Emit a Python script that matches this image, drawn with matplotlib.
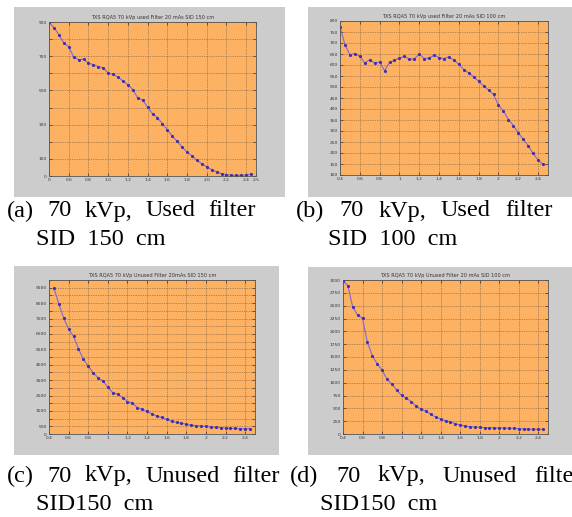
import numpy as np
import matplotlib
matplotlib.use("Agg")
import matplotlib.pyplot as plt
from matplotlib.patches import Rectangle

W, H = 572, 517

# (a) used filter, SID 150 cm
x_a = [0.40, 0.45, 0.50, 0.55, 0.60, 0.65, 0.70, 0.75, 0.80, 0.85, 0.90, 0.95,
       1.00, 1.05, 1.10, 1.15, 1.20, 1.25, 1.30, 1.35, 1.40, 1.45, 1.50, 1.55,
       1.60, 1.65, 1.70, 1.75, 1.80, 1.85, 1.90, 1.95, 2.00, 2.05, 2.10, 2.15,
       2.20, 2.25, 2.30, 2.35, 2.40, 2.45]
y_a = [900, 867, 826, 777, 756, 695, 680, 682, 660, 651, 639, 633,
       602, 594, 579, 555, 534, 505, 456, 444, 403, 364, 341, 306,
       271, 234, 203, 169, 140, 119, 92, 72, 53, 37, 23, 14,
       8, 4, 4, 4, 6, 10]

# (b) used filter, SID 100 cm
x_b = x_a
y_b = [773, 692, 647, 652, 639, 609, 624, 609, 614, 574, 612, 621,
       632, 639, 627, 627, 650, 629, 632, 644, 634, 629, 637, 622,
       603, 579, 564, 546, 526, 505, 486, 466, 417, 392, 352, 325,
       292, 263, 233, 198, 168, 148]

# (c) unused filter, SID 150 cm
x_c = [0.45, 0.50, 0.55, 0.60, 0.65, 0.70, 0.75, 0.80, 0.85, 0.90, 0.95,
       1.00, 1.05, 1.10, 1.15, 1.20, 1.25, 1.30, 1.35, 1.40, 1.45, 1.50, 1.55,
       1.60, 1.65, 1.70, 1.75, 1.80, 1.85, 1.90, 1.95, 2.00, 2.05, 2.10, 2.15,
       2.20, 2.25, 2.30, 2.35, 2.40, 2.45]
y_c = [9484, 8452, 7527, 6796, 6344, 5548, 4860, 4409, 3978, 3656, 3441,
       3032, 2688, 2581, 2366, 2108, 2000, 1720, 1591, 1462, 1312, 1161, 1075,
       946, 839, 753, 710, 624, 581, 538, 516, 495, 452, 430, 409,
       387, 366, 366, 344, 344, 344]

# (d) unused filter, SID 100 cm
x_d = x_a
y_d = [2980, 2890, 2468, 2318, 2253, 1786, 1526, 1364, 1247, 1071, 974, 857,
       753, 695, 630, 545, 481, 442, 383, 325, 292, 260, 234, 201,
       175, 156, 143, 136, 130, 123, 123, 117, 117, 117, 110, 110,
       104, 97, 97, 91, 91, 91]

titles = ["TXS RQA5 70 kVp used Filter 20 mAs SID 150 cm",
          "TXS RQA5 70 kVp used Filter 20 mAs SID 100 cm",
          "TXS RQA5 70 kVp Unused Filter 20mAs SID 150 cm",
          "TXS RQA5 70 kVp Unused Filter 20 mAs SID 100 cm"]
captions = [("(a) 70 kVp, Used filter", "SID  150  cm"),
            ("(b) 70 kVp, Used filter", "SID  100  cm"),
            ("(c) 70 kVp, Unused filter", "SID150  cm"),
            ("(d) 70 kVp, Unused filter", "SID150  cm")]

xticks_a = [0.4, 0.6, 0.8, 1.0, 1.2, 1.4, 1.6, 1.8, 2.0, 2.2, 2.4, 2.5]
xlabels_a = ["0", "0.6", "0.8", "1.0", "1.2", "1.4", "1.6", "1.8", "2.0", "2.2", "2.4", "2.5"]
xticks_std = [0.4, 0.6, 0.8, 1.0, 1.2, 1.4, 1.6, 1.8, 2.0, 2.2, 2.4]
xlabels_std = ["0.4", "0.6", "0.8", "1", "1.2", "1.4", "1.6", "1.8", "2", "2.2", "2.4"]

yticks_a = list(range(0, 901, 100))
ylabels_a = ["0", "100", "", "300", "", "500", "", "700", "", "900"]
yticks_b = list(range(100, 801, 50))
yticks_c = list(range(0, 10001, 500))
ylabels_c = ["0"] + [str(v) if v % 1000 == 500 else "" for v in yticks_c[1:]]
yticks_d = list(range(0, 3001, 250))

panels = [
    # gray box (l, t, r, b) px, axes (l, t, r, b) px
    ((14, 7, 285, 197), (49, 22, 256, 176), x_a, y_a, (0.4, 2.5), (0, 900),
     xticks_a, xlabels_a, yticks_a, ylabels_a),
    ((308, 7, 572, 197), (340, 21, 548, 175), x_b, y_b, (0.4, 2.5), (100, 800),
     xticks_std, xlabels_std, yticks_b, [str(v) for v in yticks_b]),
    ((14, 266, 279, 455), (49, 280, 255, 434), x_c, y_c, (0.4, 2.5), (0, 10000),
     xticks_std, xlabels_std, yticks_c, ylabels_c),
    ((308, 267, 572, 455), (343, 280, 548, 434), x_d, y_d, (0.4, 2.5), (0, 3000),
     xticks_std, xlabels_std, yticks_d, [str(v) for v in yticks_d]),
]
# caption line 1: start x, end x (justified), y ; line 2: start x, y
caption_pos = [(7, 256, 211, 36, 240), (296, 553, 211, 328, 240),
               (7, 280, 476, 36, 504), (290, 582, 476, 320, 504)]
CAP_FS = 17.5

fig = plt.figure(figsize=(W / 100, H / 100), dpi=100)
fig.patch.set_facecolor("white")

def box(l, t, r, b):
    return [l / W, 1 - b / H, (r - l) / W, (b - t) / H]

line1_words = []
for i, p in enumerate(panels):
    gray, axpos, xs, ys, xl, yl, xt, xtl, yt, ytl = p
    g = box(*gray)
    fig.patches.append(Rectangle((g[0], g[1]), g[2], g[3], transform=fig.transFigure,
                                 facecolor="#cccccc", edgecolor="none", zorder=-10))
    ax = fig.add_axes(box(*axpos))
    ax.set_zorder(5)
    ax.set_facecolor("#fdb163")
    ax.plot(xs, ys, color="#7b68d8", lw=0.8, marker=".", ms=2.5,
            mfc="#3b2fb0", mec="#3b2fb0")
    ax.set_xlim(*xl)
    ax.set_ylim(*yl)
    ax.set_xticks(xt)
    ax.set_xticklabels(xtl)
    ax.set_yticks(yt)
    ax.set_yticklabels(ytl)
    ax.tick_params(direction="in", length=2, width=0.5, labelsize=3.2,
                   colors="#333333", pad=1.5, top=True, right=True)
    ax.grid(True, color="#6e5a3c", linestyle=(0, (1, 1.5)), linewidth=0.5)
    for s in ax.spines.values():
        s.set_color("#555555")
        s.set_linewidth(0.6)
    ax.set_title(titles[i], fontsize=3.6, color="#333333", pad=2)

    x0, x1, y1, x2, y2 = caption_pos[i]
    words = [fig.text(0, 1 - y1 / H, w, fontsize=CAP_FS, family="Liberation Serif",
                      va="center", ha="left") for w in captions[i][0].split()]
    line1_words.append((x0, x1, words))
    fig.text(x2 / W, 1 - y2 / H, captions[i][1], fontsize=CAP_FS,
             family="Liberation Serif", va="center", ha="left")

# justify the first caption line like the typeset original
fig.canvas.draw()
r = fig.canvas.get_renderer()
for x0, x1, words in line1_words:
    widths = [t.get_window_extent(r).width for t in words]
    gap = (x1 - x0 - sum(widths)) / (len(words) - 1)
    x = x0
    for t, wd in zip(words, widths):
        t.set_x(x / W)
        x += wd + gap

fig.savefig("out.png", dpi=100)
